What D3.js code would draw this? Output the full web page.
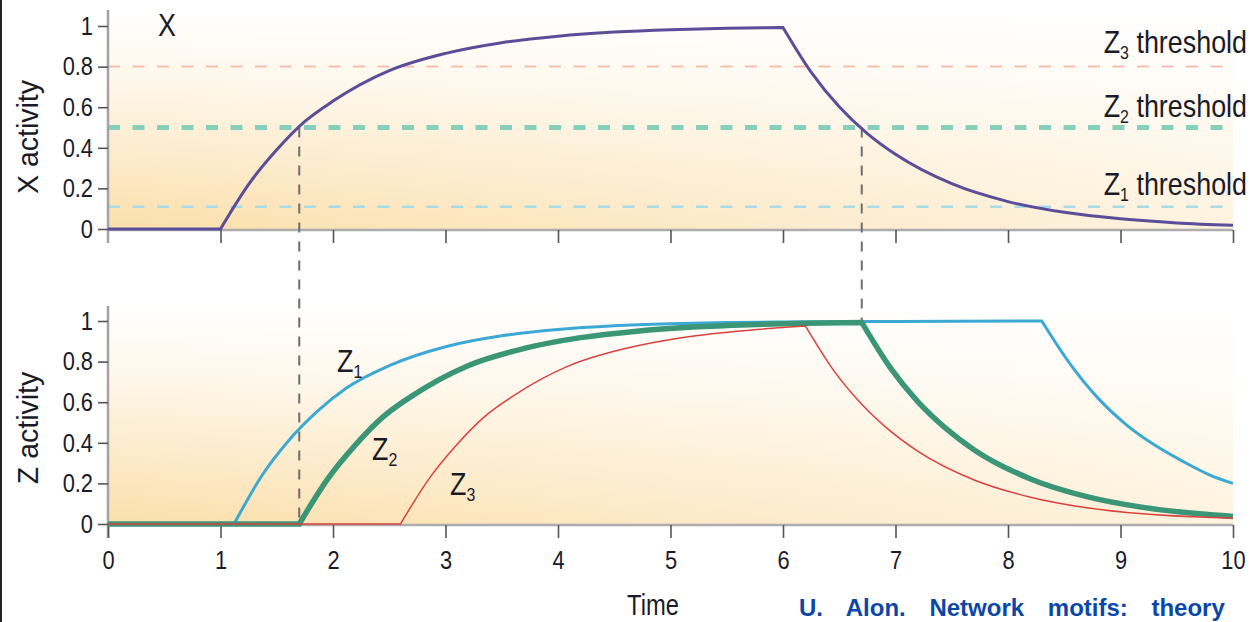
<!DOCTYPE html>
<html>
<head>
<meta charset="utf-8">
<script src="https://cdn.jsdelivr.net/npm/d3@7"></script>
<style>
  body { margin: 0; background: #fff; }
  svg { display: block; }
  .cond { font-family: "Liberation Sans", Arial, sans-serif; fill: #1b1b28; }
</style>
</head>
<body>
<div id="chart"></div>
<script>
// values (time in arbitrary units, activity 0..1)
var xTime = [0, 1, 1.25, 1.5, 1.75, 2, 2.5, 3, 3.5, 4, 4.5, 5, 5.5, 6, 6.25, 6.5, 6.75, 7, 7.5, 8, 8.5, 9, 9.5, 10];
var xAct  = [0, 0, 0.22, 0.39, 0.53, 0.63, 0.78, 0.865, 0.918, 0.95, 0.97, 0.982, 0.989, 0.993, 0.773, 0.602, 0.47, 0.368, 0.223, 0.135, 0.082, 0.05, 0.03, 0.018];
var xKinks = [1, 6];

var z1Time = [0, 1.12, 1.37, 1.62, 1.87, 2.12, 2.5, 3, 3.5, 4, 4.5, 5, 5.5, 6, 7, 8.3, 8.55, 8.8, 9.05, 9.3, 9.55, 9.8, 10];
var z1Act  = [0, 0, 0.24, 0.42, 0.56, 0.67, 0.78, 0.873, 0.927, 0.958, 0.976, 0.986, 0.992, 0.995, 0.998, 1, 0.79, 0.62, 0.49, 0.39, 0.31, 0.24, 0.2];
var z1Kinks = [1.12, 8.3];

var z2Time = [0, 1.7, 1.95, 2.2, 2.45, 2.7, 3.2, 3.7, 4.2, 4.7, 5.2, 5.7, 6.2, 6.7, 6.95, 7.2, 7.45, 7.7, 8.2, 8.7, 9.2, 9.7, 10];
var z2Act  = [0, 0, 0.22, 0.39, 0.53, 0.63, 0.78, 0.865, 0.918, 0.95, 0.97, 0.982, 0.989, 0.993, 0.773, 0.602, 0.47, 0.365, 0.222, 0.135, 0.082, 0.05, 0.037];
var z2Kinks = [1.7, 6.7];

var z3Time = [0, 2.6, 2.85, 3.1, 3.35, 3.6, 4.1, 4.6, 5.1, 5.6, 6.2, 6.45, 6.7, 6.95, 7.2, 7.7, 8.2, 8.7, 9.2, 9.7, 10];
var z3Act  = [0, 0, 0.22, 0.39, 0.53, 0.63, 0.78, 0.865, 0.918, 0.95, 0.975, 0.757, 0.59, 0.46, 0.358, 0.217, 0.132, 0.08, 0.05, 0.034, 0.03];
var z3Kinks = [2.6, 6.2];

var thresholds = [0.11, 0.5, 0.8];          // Z1, Z2, Z3
var thresholdNames = ["1", "2", "3"];
var yTicks = [0, 0.2, 0.4, 0.6, 0.8, 1];
var xTicks = [0, 1, 2, 3, 4, 5, 6, 7, 8, 9, 10];
var switchTimes = [1.7, 6.7];               // X crosses the Z2 threshold

var width = 1250;
var height = 622;
var squeeze = 0.84;   // narrow the Arial-like font to look condensed

var svg = d3.select("#chart")
  .append("svg")
  .attr("width", width)
  .attr("height", height);

var x = d3.scaleLinear().domain([0, 10]).range([108, 1233]);
var yTop = d3.scaleLinear().domain([0, 1]).range([229, 26]);
var yBot = d3.scaleLinear().domain([0, 1]).range([524, 321]);

// background gradients
var defs = svg.append("defs");
var vg = defs.append("linearGradient").attr("id", "vfill")
  .attr("x1", 0).attr("y1", 0).attr("x2", 0).attr("y2", 1);
vg.append("stop").attr("offset", 0).attr("stop-color", "#ffffff");
vg.append("stop").attr("offset", 0.35).attr("stop-color", "#fef6e8");
vg.append("stop").attr("offset", 1).attr("stop-color", "#fbdfab");
var hg = defs.append("linearGradient").attr("id", "hfade")
  .attr("x1", 0).attr("y1", 0).attr("x2", 1).attr("y2", 0);
hg.append("stop").attr("offset", 0).attr("stop-color", "#fff").attr("stop-opacity", 0);
hg.append("stop").attr("offset", 1).attr("stop-color", "#fff").attr("stop-opacity", 0.62);

[[10, 230], [305, 525]].forEach(function(p) {
  svg.append("rect").attr("x", x(0)).attr("y", p[0])
    .attr("width", x(10) - x(0)).attr("height", p[1] - p[0])
    .attr("fill", "url(#vfill)");
  svg.append("rect").attr("x", x(0)).attr("y", p[0])
    .attr("width", x(10) - x(0)).attr("height", p[1] - p[0])
    .attr("fill", "url(#hfade)");
});

// left border of the clipping
svg.append("line").attr("x1", 1).attr("x2", 1).attr("y1", 0).attr("y2", height)
  .attr("stroke", "#222").attr("stroke-width", 2);

// threshold lines
var thColors = ["#a9dbe6", "#86cfbb", "#f3bfae"];
var thWidths = [2.5, 5, 2];
thresholds.forEach(function(t, i) {
  svg.append("line")
    .attr("x1", x(0)).attr("x2", 1231)
    .attr("y1", yTop(t)).attr("y2", yTop(t))
    .attr("stroke", thColors[i])
    .attr("stroke-width", thWidths[i])
    .attr("stroke-dasharray", "12,12.5");
});

// axis lines
function axisLines(yAxisTop, yAxisBottom, yBase) {
  svg.append("line").attr("x1", x(0)).attr("x2", x(0))
    .attr("y1", yAxisTop).attr("y2", yAxisBottom)
    .attr("stroke", "#a3a3a3").attr("stroke-width", 2.5);
  svg.append("line").attr("x1", x(0)).attr("x2", x(10))
    .attr("y1", yBase).attr("y2", yBase)
    .attr("stroke", "#adadad").attr("stroke-width", 2.5);
}
axisLines(10, 243, 230);
axisLines(306, 538, 525);

function styleAxis(g) {
  g.select(".domain").remove();
  g.selectAll(".tick line").attr("stroke", "#555").attr("stroke-width", 1.6);
  g.selectAll(".tick text").each(function() {
    var t = d3.select(this);
    var tx = +t.attr("x") || 0;
    t.attr("class", "cond").style("font-size", "26px")
      .attr("x", tx / squeeze)
      .attr("transform", "scale(" + squeeze + ",1)");
  });
}

svg.append("g").attr("transform", "translate(" + x(0) + ",0)")
  .call(d3.axisLeft(yTop).tickValues(yTicks).tickSize(10).tickPadding(5).tickFormat(d3.format("")))
  .call(styleAxis);
svg.append("g").attr("transform", "translate(" + x(0) + ",0)")
  .call(d3.axisLeft(yBot).tickValues(yTicks).tickSize(10).tickPadding(5).tickFormat(d3.format("")))
  .call(styleAxis);
svg.append("g").attr("transform", "translate(0,230)")
  .call(d3.axisBottom(x).tickValues(xTicks.slice(1)).tickSize(13).tickFormat(""))
  .call(styleAxis);
svg.append("g").attr("transform", "translate(0,525)")
  .call(d3.axisBottom(x).tickValues(xTicks).tickSize(13).tickPadding(13).tickFormat(d3.format("")))
  .call(styleAxis);

// vertical dashed guides
svg.append("line")
  .attr("x1", x(switchTimes[0])).attr("x2", x(switchTimes[0]))
  .attr("y1", yTop(0.5)).attr("y2", yBot(0))
  .attr("stroke", "#6e6e6e").attr("stroke-width", 2).attr("stroke-dasharray", "10,9");
svg.append("line")
  .attr("x1", x(switchTimes[1])).attr("x2", x(switchTimes[1]))
  .attr("y1", yTop(0.5)).attr("y2", yBot(1))
  .attr("stroke", "#6e6e6e").attr("stroke-width", 2).attr("stroke-dasharray", "10,9");

// curves: smooth pieces joined at the switching points
function curvePath(ts, vs, kinks, y) {
  var line = d3.line().x(function(d) { return x(d[0]); })
    .y(function(d) { return y(d[1]); })
    .curve(d3.curveMonotoneX);
  var segs = [[]];
  ts.forEach(function(t, i) {
    segs[segs.length - 1].push([t, vs[i]]);
    if (kinks.indexOf(t) >= 0 && i > 0 && i < ts.length - 1) segs.push([[t, vs[i]]]);
  });
  return segs.map(function(s, i) {
    var d = line(s);
    return i === 0 ? d : d.replace(/^M/, "L");
  }).join("");
}

svg.append("path").attr("d", curvePath(xTime, xAct, xKinks, yTop))
  .attr("fill", "none").attr("stroke", "#5a4e99").attr("stroke-width", 3);

svg.append("path").attr("d", curvePath(z1Time, z1Act, z1Kinks, yBot))
  .attr("fill", "none").attr("stroke", "#3ba9d3").attr("stroke-width", 3);
svg.append("path").attr("d", curvePath(z2Time, z2Act, z2Kinks, yBot))
  .attr("fill", "none").attr("stroke", "#3a9677").attr("stroke-width", 5.5);
svg.append("path").attr("d", curvePath(z3Time, z3Act, z3Kinks, yBot))
  .attr("fill", "none").attr("stroke", "#d9413d").attr("stroke-width", 1.5);

// labels
function condText(px, py, size, anchor, sx, rot) {
  return svg.append("text").attr("class", "cond")
    .attr("transform", "translate(" + px + "," + py + ")" +
      (rot ? " rotate(" + rot + ")" : "") + " scale(" + (sx || squeeze) + ",1)")
    .attr("text-anchor", anchor || "start")
    .style("font-size", size + "px");
}

function subLabel(px, py, main, sub, size, anchor) {
  var t = condText(px, py, size, anchor);
  t.append("tspan").text("Z");
  t.append("tspan").attr("dy", 6).style("font-size", Math.round(size * 0.6) + "px").text(sub);
  if (main) t.append("tspan").attr("dy", -6).text(" " + main);
  return t;
}

var thY = [195, 117, 53];
thresholds.forEach(function(t, i) {
  subLabel(1247, thY[i], "threshold", thresholdNames[i], 32, "end");
});

condText(158, 36, 32).text("X");
subLabel(337, 372, null, "1", 32);
subLabel(372, 460, null, "2", 32);
subLabel(450, 495, null, "3", 32);

condText(38, 137, 30, "middle", 0.95, -90).text("X activity");
condText(38, 428, 30, "middle", 0.95, -90).text("Z activity");

condText(653, 615, 29, "middle", 0.82).text("Time");

svg.append("text")
  .attr("x", 799).attr("y", 616)
  .style("font-family", "'Liberation Sans', Arial, sans-serif")
  .style("font-weight", "bold").style("font-size", "24px")
  .style("word-spacing", "17px")
  .attr("fill", "#0b47a8")
  .text("U. Alon. Network motifs: theory");
</script>
</body>
</html>
